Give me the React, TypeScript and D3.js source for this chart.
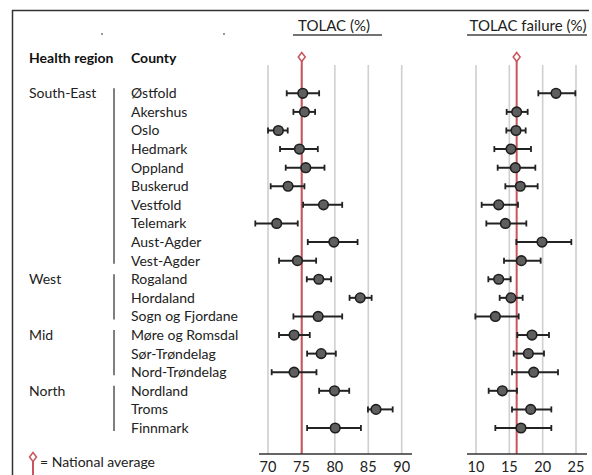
import React from "react";
import * as d3 from "d3";

const counties = ["Østfold","Akershus","Oslo","Hedmark","Oppland","Buskerud","Vestfold","Telemark","Aust-Agder","Vest-Agder","Rogaland","Hordaland","Sogn og Fjordane","Møre og Romsdal","Sør-Trøndelag","Nord-Trøndelag","Nordland","Troms","Finnmark"];

const regions = [
  { name: "South-East", first: 0, last: 9 },
  { name: "West", first: 10, last: 12 },
  { name: "Mid", first: 13, last: 15 },
  { name: "North", first: 16, last: 18 },
];

const tolacMean = [75.2,75.45,71.55,74.7,75.65,73.0,78.3,71.3,79.85,74.4,77.6,83.8,77.5,73.9,77.95,73.9,79.95,86.15,80.05];
const tolacLow  = [72.8,73.8,70.0,71.8,72.65,70.4,75.25,68.1,75.95,71.65,75.8,82.2,73.8,71.65,75.85,70.55,77.65,84.95,75.85];
const tolacHigh = [77.65,77.05,72.95,77.45,78.45,75.45,81.1,74.45,83.4,77.2,79.45,85.5,81.1,76.25,80.15,77.25,82.15,88.65,83.9];

const failMean = [22.0,16.1,16.0,15.25,15.9,16.65,13.4,14.4,19.9,16.8,13.4,15.25,12.9,18.4,17.85,18.65,13.95,18.2,16.75];
const failLow  = [19.35,14.6,14.55,12.75,13.25,14.4,10.85,11.55,16.05,14.2,11.85,13.55,9.9,16.2,15.65,15.4,11.9,15.4,12.9];
const failHigh = [24.9,17.75,17.45,18.25,18.9,19.25,16.3,17.55,24.3,19.7,15.2,17.0,16.4,20.95,20.2,22.3,16.15,21.3,21.3];

const tolacTicks = [70, 75, 80, 85, 90];
const failTicks = [10, 15, 20, 25];
const tolacAvg = 75.05;
const failAvg = 16.1;

const FONT = "Lato, 'Open Sans', sans-serif";
const RED = "#c9545d";

const y = d3.scaleLinear().domain([0, counties.length - 1]).range([93.3, 428]);

type PanelProps = {
  title: string; mean: number[]; low: number[]; high: number[];
  ticks: number[]; avg: number; x: d3.ScaleLinear<number, number>;
  axisX0: number; axisX1: number; titleX: number; ulX0: number; ulX1: number;
};

function Panel(p: PanelProps) {
  const { x } = p;
  return (
    <g>
      <text x={p.titleX} y={31} textAnchor="middle" fontSize={15} fill="#222" fontFamily={FONT}>{p.title}</text>
      <line x1={p.ulX0} x2={p.ulX1} y1={35} y2={35} stroke="#444" strokeWidth={1.3} />
      {p.ticks.map((t) => (
        <line key={"g" + t} x1={x(t)} x2={x(t)} y1={65} y2={454} stroke="#cfcfcf" strokeWidth={1.6} />
      ))}
      <line x1={x(p.avg)} x2={x(p.avg)} y1={61} y2={454} stroke={RED} strokeWidth={2} />
      <path d={`M${x(p.avg)},${52.5} l3.5,4.5 l-3.5,4.5 l-3.5,-4.5 Z`} fill="#fff" stroke={RED} strokeWidth={1.5} />
      {p.mean.map((m, i) => {
        const yy = y(i);
        return (
          <g key={i}>
            <line x1={x(p.low[i])} x2={x(p.high[i])} y1={yy} y2={yy} stroke="#222" strokeWidth={2} />
            <line x1={x(p.low[i])} x2={x(p.low[i])} y1={yy - 3} y2={yy + 3} stroke="#222" strokeWidth={1.8} />
            <line x1={x(p.high[i])} x2={x(p.high[i])} y1={yy - 3} y2={yy + 3} stroke="#222" strokeWidth={1.8} />
            <circle cx={x(m)} cy={yy} r={4.8} fill="#5e5e5e" stroke="#1e1e1e" strokeWidth={1.6} />
          </g>
        );
      })}
      <line x1={p.axisX0} x2={p.axisX1} y1={454} y2={454} stroke="#333" strokeWidth={1.5} />
      {p.ticks.map((t) => (
        <text key={"t" + t} x={x(t)} y={471.5} textAnchor="middle" fontSize={14.5} fill="#222" fontFamily={FONT}>{t}</text>
      ))}
    </g>
  );
}

export default function App() {
  const xT = d3.scaleLinear().domain([70, 90]).range([268, 401.7]);
  const xF = d3.scaleLinear().domain([10, 25]).range([476, 576]);
  return (
    <svg width={592} height={475} style={{ position: "absolute", left: 0, top: 0, background: "#fff" }}>
      <rect x={0} y={0} width={592} height={475} fill="#fff" />
      <line x1={12} x2={589} y1={10.5} y2={10.5} stroke="#333" strokeWidth={1.5} />
      <line x1={12.5} x2={12.5} y1={10} y2={475} stroke="#333" strokeWidth={1.5} />
      <circle cx={102} cy={34} r={0.9} fill="#666" />
      <circle cx={224} cy={34} r={0.9} fill="#666" />
      <text x={29} y={63} fontSize={14} fontWeight="bold" fill="#111" fontFamily={FONT}>Health region</text>
      <text x={131} y={63} fontSize={14} fontWeight="bold" fill="#111" fontFamily={FONT}>County</text>
      {regions.map((r) => (
        <g key={r.name}>
          <text x={29} y={y(r.first) + 5} fontSize={14} fill="#222" fontFamily={FONT}>{r.name}</text>
          <line x1={114} x2={114} y1={y(r.first) - 5} y2={y(r.last) + 3} stroke="#555" strokeWidth={1.5} />
        </g>
      ))}
      {counties.map((c, i) => (
        <text key={c} x={131} y={y(i) + 5} fontSize={14} fill="#222" fontFamily={FONT}>{c}</text>
      ))}
      <Panel title="TOLAC (%)" mean={tolacMean} low={tolacLow} high={tolacHigh} ticks={tolacTicks} avg={tolacAvg}
        x={xT} axisX0={259} axisX1={412} titleX={334} ulX0={293} ulX1={382} />
      <Panel title="TOLAC failure (%)" mean={failMean} low={failLow} high={failHigh} ticks={failTicks} avg={failAvg}
        x={xF} axisX0={467} axisX1={587} titleX={528} ulX0={467} ulX1={587} />
      <line x1={33} x2={33} y1={461} y2={475} stroke={RED} strokeWidth={2} />
      <path d="M33,452.5 l3.5,4.5 l-3.5,4.5 l-3.5,-4.5 Z" fill="#fff" stroke={RED} strokeWidth={1.5} />
      <text x={40} y={467} fontSize={14} fill="#222" fontFamily={FONT}>= National average</text>
    </svg>
  );
}
